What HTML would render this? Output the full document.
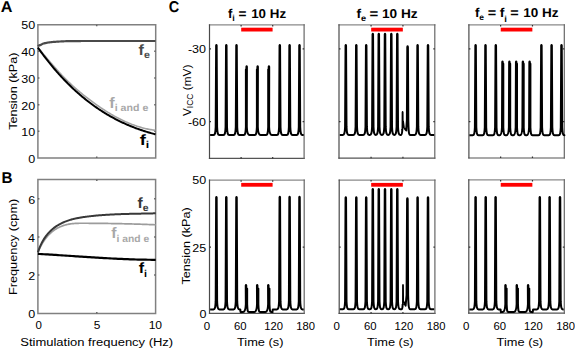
<!DOCTYPE html>
<html><head><meta charset="utf-8"><style>
html,body{margin:0;padding:0;background:#fff;width:575px;height:349px;overflow:hidden}
svg{display:block}
text{font-family:"Liberation Sans",sans-serif}
text.g{text-rendering:geometricPrecision}
</style></head><body>
<svg width="575" height="349" viewBox="0 0 575 349">
<rect width="575" height="349" fill="#fff"/>
<text class="g" transform="translate(0.78 12) scale(1.0385 1)" font-size="15.6" font-weight="bold" fill="#000">A</text>
<text class="g" transform="translate(1.42 182.8) scale(0.9792 1)" font-size="15.6" font-weight="bold" fill="#000">B</text>
<text class="g" transform="translate(168.74 12.2) scale(0.9314 1)" font-size="15.6" font-weight="bold" fill="#000">C</text>
<path d="M37.9 24.7H155.7V158H37.9Z" fill="none" stroke="#808080" stroke-width="1.5" stroke-linejoin="miter"/>
<path d="M96.7 158v-1.5M96.7 24.7v1.5M37.9 131.34h1.5M155.7 131.34h-1.5M37.9 104.68h1.5M155.7 104.68h-1.5M37.9 78.02h1.5M155.7 78.02h-1.5M37.9 51.36h1.5M155.7 51.36h-1.5" stroke="#666" stroke-width="1.5" fill="none"/>
<text transform="translate(28.26 163.2) scale(1.1100 1)" font-size="11.3" fill="#000">0</text>
<text transform="translate(21.27 136.44) scale(1.1100 1)" font-size="11.3" fill="#000">10</text>
<text transform="translate(21.27 109.68) scale(1.1100 1)" font-size="11.3" fill="#000">20</text>
<text transform="translate(21.27 82.92) scale(1.1100 1)" font-size="11.3" fill="#000">30</text>
<text transform="translate(21.27 56.16) scale(1.1100 1)" font-size="11.3" fill="#000">40</text>
<text transform="translate(21.27 29.4) scale(1.1100 1)" font-size="11.3" fill="#000">50</text>
<path d="M37.9 47.56L38.9 48.74L39.9 49.92L40.9 51.11L41.9 52.3L42.9 53.49L43.9 54.67L44.9 55.86L45.9 57.05L46.9 58.23L47.9 59.41L48.9 60.59L49.9 61.76L50.9 62.93L51.9 64.09L52.9 65.24L53.9 66.39L54.9 67.52L55.9 68.65L56.9 69.77L57.9 70.88L58.9 71.98L59.9 73.07L60.9 74.14L61.9 75.2L62.9 76.25L63.9 77.28L64.9 78.3L65.9 79.31L66.9 80.3L67.9 81.27L68.9 82.24L69.9 83.19L70.9 84.13L71.9 85.05L72.9 85.97L73.9 86.87L74.9 87.76L75.9 88.64L76.9 89.51L77.9 90.37L78.9 91.22L79.9 92.06L80.9 92.89L81.9 93.71L82.9 94.52L83.9 95.32L84.9 96.11L85.9 96.9L86.9 97.68L87.9 98.45L88.9 99.21L89.9 99.97L90.9 100.72L91.9 101.46L92.9 102.2L93.9 102.93L94.9 103.65L95.9 104.36L96.9 105.07L97.9 105.76L98.9 106.46L99.9 107.14L100.9 107.81L101.9 108.48L102.9 109.14L103.9 109.79L104.9 110.43L105.9 111.07L106.9 111.69L107.9 112.31L108.9 112.92L109.9 113.52L110.9 114.11L111.9 114.7L112.9 115.27L113.9 115.84L114.9 116.39L115.9 116.94L116.9 117.48L117.9 118L118.9 118.52L119.9 119.03L120.9 119.53L121.9 120.02L122.9 120.5L123.9 120.98L124.9 121.44L125.9 121.89L126.9 122.33L127.9 122.76L128.9 123.18L129.9 123.59L130.9 123.99L131.9 124.38L132.9 124.76L133.9 125.12L134.9 125.48L135.9 125.83L136.9 126.16L137.9 126.49L138.9 126.8L139.9 127.1L140.9 127.39L141.9 127.67L142.9 127.94L143.9 128.2L144.9 128.44L145.9 128.67L146.9 128.89L147.9 129.1L148.9 129.3L149.9 129.49L150.9 129.66L151.9 129.82L152.9 129.97L153.9 130.1L154.9 130.23L155.5 130.3" stroke="#a2a2a2" stroke-width="1.6" fill="none"/>
<path d="M37.9 47.62L38.9 49.03L39.9 50.41L40.9 51.79L41.9 53.15L42.9 54.49L43.9 55.82L44.9 57.13L45.9 58.44L46.9 59.72L47.9 60.99L48.9 62.25L49.9 63.49L50.9 64.72L51.9 65.94L52.9 67.14L53.9 68.33L54.9 69.5L55.9 70.66L56.9 71.81L57.9 72.95L58.9 74.07L59.9 75.17L60.9 76.27L61.9 77.35L62.9 78.42L63.9 79.48L64.9 80.52L65.9 81.55L66.9 82.57L67.9 83.58L68.9 84.57L69.9 85.56L70.9 86.53L71.9 87.48L72.9 88.43L73.9 89.37L74.9 90.29L75.9 91.2L76.9 92.1L77.9 92.99L78.9 93.87L79.9 94.73L80.9 95.59L81.9 96.43L82.9 97.27L83.9 98.09L84.9 98.9L85.9 99.7L86.9 100.5L87.9 101.28L88.9 102.05L89.9 102.81L90.9 103.56L91.9 104.3L92.9 105.03L93.9 105.75L94.9 106.46L95.9 107.16L96.9 107.85L97.9 108.54L98.9 109.21L99.9 109.87L100.9 110.53L101.9 111.18L102.9 111.81L103.9 112.44L104.9 113.06L105.9 113.67L106.9 114.27L107.9 114.86L108.9 115.45L109.9 116.02L110.9 116.59L111.9 117.15L112.9 117.7L113.9 118.24L114.9 118.77L115.9 119.3L116.9 119.81L117.9 120.32L118.9 120.82L119.9 121.32L120.9 121.8L121.9 122.28L122.9 122.75L123.9 123.21L124.9 123.67L125.9 124.11L126.9 124.55L127.9 124.99L128.9 125.41L129.9 125.83L130.9 126.24L131.9 126.65L132.9 127.04L133.9 127.43L134.9 127.82L135.9 128.19L136.9 128.57L137.9 128.93L138.9 129.29L139.9 129.64L140.9 129.98L141.9 130.32L142.9 130.65L143.9 130.98L144.9 131.29L145.9 131.61L146.9 131.91L147.9 132.22L148.9 132.51L149.9 132.8L150.9 133.09L151.9 133.36L152.9 133.64L153.9 133.9L154.9 134.17L155.5 134.32" stroke="#000" stroke-width="2" fill="none"/>
<path d="M37.9 46.3L38.6 45.68L39.3 45.37L40 45.13L40.7 44.89L41.4 44.54L42.1 44.13L42.8 43.77L43.5 43.54L44.2 43.36L44.9 43.2L45.6 43.06L46.3 42.92L47 42.78L47.7 42.65L48.4 42.52L49.1 42.41L49.8 42.31L50.5 42.23L51.2 42.16L51.9 42.09L52.6 42.02L53.3 41.96L54 41.91L54.7 41.86L55.4 41.8L56.1 41.76L56.8 41.71L57.5 41.66L58.2 41.61L58.9 41.56L59.6 41.52L60.3 41.48L61 41.44L61.7 41.4L62.4 41.36L63.1 41.33L63.8 41.3L64.5 41.27L65.2 41.25L65.9 41.22L66.6 41.2L67.3 41.18L68 41.15L68.7 41.14L69.4 41.12L70.1 41.11L70.8 41.1L71.5 41.09L72.2 41.09L72.9 41.08L73.6 41.07L74.3 41.07L75 41.06L75.7 41.06L76.4 41.05L77.1 41.05L77.8 41.04L78.5 41.04L79.2 41.03L79.9 41.03L80.6 41.03L81.3 41.02L82 41.02L82.7 41.02L83.4 41.01L84.1 41.01L84.8 41.01L85.5 41.01L86.2 41L86.9 41L87.6 41L88.3 41L89 41L89.7 41L90.4 41L91.1 41L91.8 41L92.5 41L93.2 41L93.9 41L94.6 41L95.3 41L96 41L96.7 41L97.4 41L98.1 41L98.8 41L99.5 41L100.2 41L100.9 41L101.6 41L102.3 41L103 41L103.7 41L104.4 41L105.1 41L105.8 41L106.5 41L107.2 41L107.9 41L108.6 41L109.3 41L110 41L110.7 41L111.4 41L112.1 41L112.8 41L113.5 41L114.2 41L114.9 41L115.6 41L116.3 41L117 41L117.7 41L118.4 41L119.1 41L119.8 41L120.5 41L121.2 41L121.9 41L122.6 41L123.3 41L124 41L124.7 41L125.4 41L126.1 41L126.8 41L127.5 41L128.2 41L128.9 41L129.6 41L130.3 41L131 41L131.7 41L132.4 41L133.1 41L133.8 41L134.5 41L135.2 41L135.9 41L136.6 41L137.3 41L138 41L138.7 41L139.4 41L140.1 41L140.8 41L141.5 41L142.2 41L142.9 41L143.6 41L144.3 41L145 41L145.7 41L146.4 41L147.1 41L147.8 41L148.5 41L149.2 41L149.9 41L150.6 41L151.3 41L152 41L152.7 41L153.4 41L154.1 41L154.8 41L155.5 41" stroke="#4a4a4a" stroke-width="2.2" fill="none"/>
<text class="g" transform="translate(138.58 55) scale(1.0707 1)" font-size="15" font-weight="bold" fill="#4a4a4a">f<tspan font-size="10" dy="3.4">e</tspan></text>
<text class="g" transform="translate(109.28 108.1) scale(1.0609 1)" font-size="15.3" font-weight="bold" fill="#a8a8a8">f<tspan font-size="10" dy="3.2">i and e</tspan></text>
<text class="g" transform="translate(139.73 144.6) scale(1.2206 1)" font-size="15" font-weight="bold" fill="#000">f<tspan font-size="10" dy="3.4">i</tspan></text>
<text transform="translate(16.6 129.84) rotate(-90) scale(1.1189 1)" font-size="11.3" fill="#000">Tension (kPa)</text>
<path d="M37.9 179.6H155.6V313.5H37.9Z" fill="none" stroke="#808080" stroke-width="1.5" stroke-linejoin="miter"/>
<path d="M96.8 313.5v-1.5M96.8 179.6v1.5M37.9 275.1h1.5M155.6 275.1h-1.5M37.9 236.9h1.5M155.6 236.9h-1.5M37.9 198.7h1.5M155.6 198.7h-1.5" stroke="#666" stroke-width="1.5" fill="none"/>
<text transform="translate(28.26 318.3) scale(1.1100 1)" font-size="11.3" fill="#000">0</text>
<text transform="translate(28.37 280.1) scale(1.1100 1)" font-size="11.3" fill="#000">2</text>
<text transform="translate(28.04 241.9) scale(1.1100 1)" font-size="11.3" fill="#000">4</text>
<text transform="translate(28.26 203.7) scale(1.1100 1)" font-size="11.3" fill="#000">6</text>
<text transform="translate(35.44 329.4) scale(1.0185 1)" font-size="11.3" fill="#000">0</text>
<text transform="translate(93.67 329.4) scale(1.0566 1)" font-size="11.3" fill="#000">5</text>
<text transform="translate(148.64 329.4) scale(1.0714 1)" font-size="11.3" fill="#000">10</text>
<path d="M37.9 252.36L38.6 250.7L39.3 249.13L40 247.66L40.7 246.28L41.4 244.98L42.1 243.76L42.8 242.61L43.5 241.52L44.2 240.49L44.9 239.51L45.6 238.57L46.3 237.68L47 236.83L47.7 236.02L48.4 235.25L49.1 234.51L49.8 233.81L50.5 233.15L51.2 232.51L51.9 231.91L52.6 231.34L53.3 230.8L54 230.29L54.7 229.8L55.4 229.34L56.1 228.91L56.8 228.5L57.5 228.11L58.2 227.74L58.9 227.39L59.6 227.05L60.3 226.74L61 226.45L61.7 226.17L62.4 225.9L63.1 225.66L63.8 225.43L64.5 225.21L65.2 225.01L65.9 224.82L66.6 224.65L67.3 224.49L68 224.34L68.7 224.2L69.4 224.08L70.1 223.96L70.8 223.86L71.5 223.77L72.2 223.68L72.9 223.61L73.6 223.54L74.3 223.49L75 223.44L75.7 223.39L76.4 223.36L77.1 223.33L77.8 223.3L78.5 223.28L79.2 223.27L79.9 223.26L80.6 223.25L81.3 223.24L82 223.24L82.7 223.24L83.4 223.24L84.1 223.25L84.8 223.25L85.5 223.26L86.2 223.26L86.9 223.26L87.6 223.27L88.3 223.27L89 223.28L89.7 223.28L90.4 223.29L91.1 223.29L91.8 223.3L92.5 223.3L93.2 223.31L93.9 223.32L94.6 223.32L95.3 223.33L96 223.34L96.7 223.34L97.4 223.35L98.1 223.36L98.8 223.36L99.5 223.37L100.2 223.38L100.9 223.39L101.6 223.39L102.3 223.4L103 223.41L103.7 223.42L104.4 223.43L105.1 223.44L105.8 223.45L106.5 223.46L107.2 223.47L107.9 223.47L108.6 223.49L109.3 223.5L110 223.51L110.7 223.52L111.4 223.53L112.1 223.54L112.8 223.55L113.5 223.56L114.2 223.57L114.9 223.59L115.6 223.6L116.3 223.61L117 223.62L117.7 223.64L118.4 223.65L119.1 223.66L119.8 223.68L120.5 223.69L121.2 223.71L121.9 223.72L122.6 223.74L123.3 223.75L124 223.77L124.7 223.78L125.4 223.8L126.1 223.82L126.8 223.83L127.5 223.85L128.2 223.87L128.9 223.89L129.6 223.9L130.3 223.92L131 223.94L131.7 223.96L132.4 223.98L133.1 224L133.8 224.02L134.5 224.04L135.2 224.06L135.9 224.08L136.6 224.1L137.3 224.12L138 224.14L138.7 224.16L139.4 224.19L140.1 224.21L140.8 224.23L141.5 224.25L142.2 224.28L142.9 224.3L143.6 224.33L144.3 224.35L145 224.37L145.7 224.4L146.4 224.43L147.1 224.45L147.8 224.48L148.5 224.5L149.2 224.53L149.9 224.56L150.6 224.59L151.3 224.62L152 224.64L152.7 224.67L153.4 224.7L154.1 224.73L154.8 224.76L155.5 224.79L155.7 224.8" stroke="#9c9c9c" stroke-width="1.7" fill="none"/>
<path d="M37.9 252.35L38.6 250.3L39.3 248.4L40 246.66L40.7 245.05L41.4 243.57L42.1 242.2L42.8 240.94L43.5 239.76L44.2 238.66L44.9 237.62L45.6 236.64L46.3 235.7L47 234.81L47.7 233.96L48.4 233.15L49.1 232.37L49.8 231.64L50.5 230.94L51.2 230.27L51.9 229.63L52.6 229.03L53.3 228.45L54 227.9L54.7 227.38L55.4 226.88L56.1 226.4L56.8 225.94L57.5 225.5L58.2 225.08L58.9 224.67L59.6 224.28L60.3 223.91L61 223.54L61.7 223.19L62.4 222.85L63.1 222.53L63.8 222.21L64.5 221.91L65.2 221.62L65.9 221.35L66.6 221.08L67.3 220.82L68 220.58L68.7 220.34L69.4 220.12L70.1 219.9L70.8 219.69L71.5 219.49L72.2 219.3L72.9 219.12L73.6 218.94L74.3 218.77L75 218.61L75.7 218.46L76.4 218.31L77.1 218.17L77.8 218.03L78.5 217.9L79.2 217.78L79.9 217.66L80.6 217.54L81.3 217.43L82 217.32L82.7 217.21L83.4 217.11L84.1 217.01L84.8 216.91L85.5 216.82L86.2 216.73L86.9 216.63L87.6 216.55L88.3 216.46L89 216.37L89.7 216.29L90.4 216.21L91.1 216.13L91.8 216.05L92.5 215.98L93.2 215.9L93.9 215.83L94.6 215.76L95.3 215.69L96 215.62L96.7 215.56L97.4 215.49L98.1 215.43L98.8 215.37L99.5 215.31L100.2 215.26L100.9 215.2L101.6 215.14L102.3 215.09L103 215.04L103.7 214.99L104.4 214.94L105.1 214.89L105.8 214.85L106.5 214.8L107.2 214.76L107.9 214.72L108.6 214.67L109.3 214.63L110 214.6L110.7 214.56L111.4 214.52L112.1 214.49L112.8 214.45L113.5 214.42L114.2 214.38L114.9 214.35L115.6 214.32L116.3 214.29L117 214.26L117.7 214.24L118.4 214.21L119.1 214.18L119.8 214.16L120.5 214.13L121.2 214.11L121.9 214.09L122.6 214.06L123.3 214.04L124 214.02L124.7 214L125.4 213.98L126.1 213.96L126.8 213.94L127.5 213.92L128.2 213.9L128.9 213.89L129.6 213.87L130.3 213.85L131 213.84L131.7 213.82L132.4 213.81L133.1 213.79L133.8 213.78L134.5 213.76L135.2 213.75L135.9 213.73L136.6 213.72L137.3 213.7L138 213.69L138.7 213.68L139.4 213.66L140.1 213.65L140.8 213.64L141.5 213.62L142.2 213.61L142.9 213.59L143.6 213.58L144.3 213.57L145 213.55L145.7 213.54L146.4 213.52L147.1 213.51L147.8 213.49L148.5 213.48L149.2 213.46L149.9 213.45L150.6 213.43L151.3 213.41L152 213.4L152.7 213.38L153.4 213.36L154.1 213.34L154.8 213.32L155.5 213.31L155.7 213.3" stroke="#383838" stroke-width="2" fill="none"/>
<path d="M37.9 253.9L39.9 254.01L41.9 254.12L43.9 254.24L45.9 254.35L47.9 254.47L49.9 254.6L51.9 254.72L53.9 254.84L55.9 254.97L57.9 255.1L59.9 255.23L61.9 255.36L63.9 255.49L65.9 255.62L67.9 255.75L69.9 255.88L71.9 256.02L73.9 256.15L75.9 256.28L77.9 256.42L79.9 256.55L81.9 256.68L83.9 256.81L85.9 256.94L87.9 257.07L89.9 257.2L91.9 257.32L93.9 257.45L95.9 257.57L97.9 257.7L99.9 257.82L101.9 257.93L103.9 258.05L105.9 258.16L107.9 258.27L109.9 258.38L111.9 258.49L113.9 258.59L115.9 258.69L117.9 258.79L119.9 258.88L121.9 258.97L123.9 259.05L125.9 259.14L127.9 259.21L129.9 259.29L131.9 259.36L133.9 259.42L135.9 259.48L137.9 259.54L139.9 259.59L141.9 259.63L143.9 259.67L145.9 259.71L147.9 259.74L149.9 259.76L151.9 259.78L153.9 259.79L155.7 259.8" stroke="#000" stroke-width="2.2" fill="none"/>
<text class="g" transform="translate(137.49 207.6) scale(1.0404 1)" font-size="15" font-weight="bold" fill="#383838">f<tspan font-size="10" dy="3.4">e</tspan></text>
<text class="g" transform="translate(111.29 238.3) scale(1.0332 1)" font-size="15.3" font-weight="bold" fill="#a8a8a8">f<tspan font-size="10" dy="3.2">i and e</tspan></text>
<text class="g" transform="translate(138.68 273.3) scale(1.0735 1)" font-size="15" font-weight="bold" fill="#000">f<tspan font-size="10" dy="3.4">i</tspan></text>
<text transform="translate(16.8 295.12) rotate(-90) scale(1.1289 1)" font-size="11.3" fill="#000">Frequency (cpm)</text>
<text transform="translate(20.32 346.3) scale(1.1501 1)" font-size="11.3" fill="#000">Stimulation frequency (Hz)</text>
<path d="M208.9 24.9H304.7" stroke="#8a8a8a" stroke-width="1.2"/>
<path d="M208.9 158.4H304.7" stroke="#555" stroke-width="1.2"/>
<path d="M304.1 24.3V159" stroke="#666" stroke-width="1.2"/>
<path d="M209.5 24.3V159" stroke="#4a4a4a" stroke-width="1.2"/>
<path d="M241.1 158.4v-1.5M241.1 24.9v1.5M272.7 158.4v-1.5M272.7 24.9v1.5M209.5 48.9h1.5M304.1 48.9h-1.5M209.5 121.7h1.5M304.1 121.7h-1.5" stroke="#333" stroke-width="1.2" fill="none"/>
<rect x="241.2" y="27.7" width="31.4" height="3.8" fill="#f00"/>
<path d="M208.9 180.2H304.8" stroke="#8a8a8a" stroke-width="1.2"/>
<path d="M208.9 313.3H304.8" stroke="#555" stroke-width="1.2"/>
<path d="M304.2 179.6V313.9" stroke="#666" stroke-width="1.2"/>
<path d="M209.5 179.6V313.9" stroke="#4a4a4a" stroke-width="1.2"/>
<path d="M241.1 313.3v-1.5M241.1 180.2v1.5M272.7 313.3v-1.5M272.7 180.2v1.5M209.5 247.1h1.5M304.2 247.1h-1.5" stroke="#333" stroke-width="1.2" fill="none"/>
<rect x="241.2" y="182.9" width="31.4" height="3.8" fill="#f00"/>
<path d="M338.4 24.9H435.4" stroke="#8a8a8a" stroke-width="1.2"/>
<path d="M338.4 158.2H435.4" stroke="#555" stroke-width="1.2"/>
<path d="M434.8 24.3V158.8" stroke="#666" stroke-width="1.2"/>
<path d="M339 24.3V158.8" stroke="#4a4a4a" stroke-width="1.2"/>
<path d="M371.07 158.2v-1.5M371.07 24.9v1.5M402.93 158.2v-1.5M402.93 24.9v1.5M339 48.9h1.5M434.8 48.9h-1.5M339 121.7h1.5M434.8 121.7h-1.5" stroke="#333" stroke-width="1.2" fill="none"/>
<rect x="371.17" y="27.7" width="31.67" height="3.8" fill="#f00"/>
<path d="M338.6 180.1H435.5" stroke="#8a8a8a" stroke-width="1.2"/>
<path d="M338.6 313.4H435.5" stroke="#555" stroke-width="1.2"/>
<path d="M434.9 179.5V314" stroke="#666" stroke-width="1.2"/>
<path d="M339.2 179.5V314" stroke="#4a4a4a" stroke-width="1.2"/>
<path d="M371.07 313.4v-1.5M371.07 180.1v1.5M402.93 313.4v-1.5M402.93 180.1v1.5M339.2 247.1h1.5M434.9 247.1h-1.5" stroke="#333" stroke-width="1.2" fill="none"/>
<rect x="371.17" y="182.9" width="31.67" height="3.8" fill="#f00"/>
<path d="M468.3 24.9H564.9" stroke="#8a8a8a" stroke-width="1.2"/>
<path d="M468.3 158H564.9" stroke="#555" stroke-width="1.2"/>
<path d="M564.3 24.3V158.6" stroke="#666" stroke-width="1.2"/>
<path d="M468.9 24.3V158.6" stroke="#4a4a4a" stroke-width="1.2"/>
<path d="M500.63 158v-1.5M500.63 24.9v1.5M532.47 158v-1.5M532.47 24.9v1.5M468.9 48.9h1.5M564.3 48.9h-1.5M468.9 121.7h1.5M564.3 121.7h-1.5" stroke="#333" stroke-width="1.2" fill="none"/>
<rect x="500.73" y="27.7" width="31.63" height="3.8" fill="#f00"/>
<path d="M468.2 179.9H564.9" stroke="#8a8a8a" stroke-width="1.2"/>
<path d="M468.2 313.2H564.9" stroke="#555" stroke-width="1.2"/>
<path d="M564.3 179.3V313.8" stroke="#666" stroke-width="1.2"/>
<path d="M468.8 179.3V313.8" stroke="#4a4a4a" stroke-width="1.2"/>
<path d="M500.63 313.2v-1.5M500.63 179.9v1.5M532.47 313.2v-1.5M532.47 179.9v1.5M468.8 247.1h1.5M564.3 247.1h-1.5" stroke="#333" stroke-width="1.2" fill="none"/>
<rect x="500.73" y="182.9" width="31.63" height="3.8" fill="#f00"/>
<text transform="translate(187.95 52.9) scale(1.1100 1)" font-size="11.3" fill="#000">-30</text>
<text transform="translate(187.95 126) scale(1.1100 1)" font-size="11.3" fill="#000">-60</text>
<text transform="translate(192.37 184) scale(1.1100 1)" font-size="11.3" fill="#000">50</text>
<text transform="translate(192.37 251.7) scale(1.1100 1)" font-size="11.3" fill="#000">25</text>
<text transform="translate(199.46 317.8) scale(1.1100 1)" font-size="11.3" fill="#000">0</text>
<text transform="translate(203.69 329.6) scale(1.0185 1)" font-size="11.3" fill="#000">0</text>
<text transform="translate(234.05 329.6) scale(1.0000 1)" font-size="11.3" fill="#000">60</text>
<text transform="translate(264.31 329.6) scale(0.9943 1)" font-size="11.3" fill="#000">120</text>
<text transform="translate(296.31 329.6) scale(0.9943 1)" font-size="11.3" fill="#000">180</text>
<text transform="translate(236.96 346) scale(1.1350 1)" font-size="11.3" fill="#000">Time (s)</text>
<text transform="translate(333.39 329.6) scale(1.0185 1)" font-size="11.3" fill="#000">0</text>
<text transform="translate(364.02 329.6) scale(1.0000 1)" font-size="11.3" fill="#000">60</text>
<text transform="translate(394.54 329.6) scale(0.9943 1)" font-size="11.3" fill="#000">120</text>
<text transform="translate(426.81 329.6) scale(0.9943 1)" font-size="11.3" fill="#000">180</text>
<text transform="translate(367.06 346) scale(1.1350 1)" font-size="11.3" fill="#000">Time (s)</text>
<text transform="translate(462.99 329.6) scale(1.0185 1)" font-size="11.3" fill="#000">0</text>
<text transform="translate(493.58 329.6) scale(1.0000 1)" font-size="11.3" fill="#000">60</text>
<text transform="translate(524.07 329.6) scale(0.9943 1)" font-size="11.3" fill="#000">120</text>
<text transform="translate(556.31 329.6) scale(0.9943 1)" font-size="11.3" fill="#000">180</text>
<text transform="translate(496.61 346) scale(1.1350 1)" font-size="11.3" fill="#000">Time (s)</text>
<text transform="translate(190.5 116) rotate(-90) scale(1.0000 1)" font-size="11.8" fill="#000">V<tspan font-size="8.5" dy="2.7">ICC</tspan><tspan dy="-2.7"> (mV)</tspan></text>
<text transform="translate(189.8 284.54) rotate(-90) scale(1.1189 1)" font-size="11.3" fill="#000">Tension (kPa)</text>
<text class="g" transform="translate(227.9 18.4) scale(1.0169 1)" font-size="12.8" font-weight="bold" fill="#000">f<tspan font-size="8.8" dy="2.8">i</tspan></text>
<text class="g" transform="translate(238.57 18.4) scale(1.0625 1)" font-size="12.8" font-weight="bold" fill="#000">=</text>
<text class="g" transform="translate(251.17 18.4) scale(1.0435 1)" font-size="12.8" font-weight="bold" fill="#000">10 Hz</text>
<text class="g" transform="translate(356.39 18.4) scale(1.0706 1)" font-size="12.8" font-weight="bold" fill="#000">f<tspan font-size="8.5" dy="2.8">e</tspan></text>
<text class="g" transform="translate(369.51 18.4) scale(1.1719 1)" font-size="12.8" font-weight="bold" fill="#000">=</text>
<text class="g" transform="translate(381.95 18.4) scale(1.0683 1)" font-size="12.8" font-weight="bold" fill="#000">10 Hz</text>
<text class="g" transform="translate(474.89 17.4) scale(1.0361 1)" font-size="12.8" font-weight="bold" fill="#000">f<tspan font-size="8.2" dy="2.2">e</tspan></text>
<text class="g" transform="translate(487.64 17.4) scale(1.1250 1)" font-size="12.8" font-weight="bold" fill="#000">=</text>
<text class="g" transform="translate(499.68 17.4) scale(1.0847 1)" font-size="12.8" font-weight="bold" fill="#000">f<tspan font-size="8.8" dy="5.0">i</tspan></text>
<text class="g" transform="translate(510.24 17.4) scale(1.1250 1)" font-size="12.8" font-weight="bold" fill="#000">=</text>
<text class="g" transform="translate(523.16 17.4) scale(1.0559 1)" font-size="12.8" font-weight="bold" fill="#000">10 Hz</text>
<path d="M210.1 135L213.5 135C214.9 135 215.4 133.5 215.7 127L216.15 45.5Q216.4 44.5 216.65 45.5L217.1 127C217.4 133.5 217.9 135 219.3 135L223.4 135C224.8 135 225.3 133.5 225.6 127L226.05 45.5Q226.3 44.5 226.55 45.5L227 127C227.3 133.5 227.8 135 229.2 135L233.6 135C235 135 235.5 133.5 235.8 127L236.25 45.5Q236.5 44.5 236.75 45.5L237.2 127C237.5 133.5 238 135 239.4 135L243.75 135C245.15 135 245.6 133.5 245.9 127L245.9 69.6L246.4 69.2L246.4 66.8Q246.65 65.8 246.9 66.8L246.8 127C247.1 133.5 248.15 135 249.55 135L254.75 135C256.15 135 256.6 133.5 256.9 127L256.9 69.6L257.4 69.2L257.4 66.8Q257.65 65.8 257.9 66.8L257.8 127C258.1 133.5 259.15 135 260.55 135L266.05 135C267.45 135 267.9 133.5 268.2 127L268.2 69.6L268.7 69.2L268.7 66.8Q268.95 65.8 269.2 66.8L269.1 127C269.4 133.5 270.45 135 271.85 135L276.9 135C278.3 135 278.8 133.5 279.1 127L279.55 45.4Q279.8 44.4 280.05 45.4L280.5 127C280.8 133.5 281.3 135 282.7 135L286.7 135C288.1 135 288.6 133.5 288.9 127L289.35 45.4Q289.6 44.4 289.85 45.4L290.3 127C290.6 133.5 291.1 135 292.5 135L296.6 135C298 135 298.5 133.5 298.8 127L299.25 45.4Q299.5 44.4 299.75 45.4L300.2 127C300.5 133.5 301 135 302.4 135L303.7 135" stroke="#000" stroke-width="2" fill="none" stroke-linejoin="round"/>
<path d="M339.8 134.9L342.9 134.9C344.3 134.9 344.8 133.4 345.1 126.9L345.55 45.6Q345.8 44.6 346.05 45.6L346.5 126.9C346.8 133.4 347.3 134.9 348.7 134.9L353.4 134.9C354.8 134.9 355.3 133.4 355.6 126.9L356.05 45.6Q356.3 44.6 356.55 45.6L357 126.9C357.3 133.4 357.8 134.9 359.2 134.9L363.3 134.9C364.7 134.9 365.2 133.4 365.5 126.9L365.95 45.6Q366.2 44.6 366.45 45.6L366.9 126.9C367.2 133.4 367.7 134.9 369.1 134.9L369.9 134.9C371.3 134.9 371.8 133.4 372.1 126.9L372.55 34.2Q372.8 33.2 373.05 34.2L373.5 126.9C373.8 133.4 374.3 134.9 375.7 134.9L375.9 134.9C377.3 134.9 377.8 133.4 378.1 126.9L378.55 34.2Q378.8 33.2 379.05 34.2L379.5 126.9C379.8 133.4 380.3 134.9 381.7 134.9L382.1 134.9C383.5 134.9 384 133.4 384.3 126.9L384.75 34.2Q385 33.2 385.25 34.2L385.7 126.9C386 133.4 386.5 134.9 387.9 134.9L388.4 134.9C389.8 134.9 390.3 133.4 390.6 126.9L391.05 34.2Q391.3 33.2 391.55 34.2L392 126.9C392.3 133.4 392.8 134.9 394.2 134.9L394.4 134.9C395.8 134.9 396.3 133.4 396.6 126.9L397.05 34.2Q397.3 33.2 397.55 34.2L398 126.9C398.3 133.4 398.8 134.9 400.2 134.9L401 134.9C401.8 134.9 402.2 133.8 402.3 129M402.9 121L403.8 127.5L406.2 130.5L406.9 120L407.3 47Q407.6 45.6 407.9 47L408.3 120C408.5 131 408.7 134.9 410.3 134.9L414.7 134.9C416.1 134.9 416.6 133.4 416.9 126.9L417.35 45.5Q417.6 44.5 417.85 45.5L418.3 126.9C418.6 133.4 419.1 134.9 420.5 134.9L425.1 134.9C426.5 134.9 427 133.4 427.3 126.9L427.75 45.5Q428 44.5 428.25 45.5L428.7 126.9C429 133.4 429.5 134.9 430.9 134.9L434.2 134.9" stroke="#000" stroke-width="2" fill="none" stroke-linejoin="round"/>
<path d="M469.4 135.2L472.7 135.2C474.1 135.2 474.6 133.7 474.9 127.2L475.35 45.4Q475.6 44.4 475.85 45.4L476.3 127.2C476.6 133.7 477.1 135.2 478.5 135.2L482.6 135.2C484 135.2 484.5 133.7 484.8 127.2L485.25 45.4Q485.5 44.4 485.75 45.4L486.2 127.2C486.5 133.7 487 135.2 488.4 135.2L492.9 135.2C494.3 135.2 494.8 133.7 495.1 127.2L495.55 45.4Q495.8 44.4 496.05 45.4L496.5 127.2C496.8 133.7 497.3 135.2 498.7 135.2L499.6 135.2C501 135.2 501.7 133.7 502 127.2L502.25 61.9Q502.5 60.9 502.75 61.9L502.75 63.4L503.3 63.8L503.3 127.2C503.6 133.7 504 135.2 505.4 135.2L506.5 135.2C507.9 135.2 508.6 133.7 508.9 127.2L509.15 61.9Q509.4 60.9 509.65 61.9L509.65 63.4L510.2 63.8L510.2 127.2C510.5 133.7 510.9 135.2 512.3 135.2L513.3 135.2C514.7 135.2 515.4 133.7 515.7 127.2L515.95 61.9Q516.2 60.9 516.45 61.9L516.45 63.4L517 63.8L517 127.2C517.3 133.7 517.7 135.2 519.1 135.2L520 135.2C521.4 135.2 522.1 133.7 522.4 127.2L522.65 61.9Q522.9 60.9 523.15 61.9L523.15 63.4L523.7 63.8L523.7 127.2C524 133.7 524.4 135.2 525.8 135.2L526.7 135.2C528.1 135.2 528.8 133.7 529.1 127.2L529.35 61.9Q529.6 60.9 529.85 61.9L529.85 63.4L530.4 63.8L530.4 127.2C530.7 133.7 531.1 135.2 532.5 135.2L538.5 135.2C539.9 135.2 540.4 133.7 540.7 127.2L541.15 45.4Q541.4 44.4 541.65 45.4L542.1 127.2C542.4 133.7 542.9 135.2 544.3 135.2L548.7 135.2C550.1 135.2 550.6 133.7 550.9 127.2L551.35 45.4Q551.6 44.4 551.85 45.4L552.3 127.2C552.6 133.7 553.1 135.2 554.5 135.2L558.6 135.2C560 135.2 560.5 133.7 560.8 127.2L561.25 45.4Q561.5 44.4 561.75 45.4L562.2 127.2C562.5 133.7 563 135.2 564.4 135.2L563.7 135.2" stroke="#000" stroke-width="2" fill="none" stroke-linejoin="round"/>
<path d="M210.1 309.4L213.5 309.4C214.9 309.4 215.4 307.9 215.7 301.4L216.15 197.5Q216.4 196.5 216.65 197.5L217.1 301.4C217.4 307.9 217.9 309.4 219.3 309.4L223.4 309.4C224.8 309.4 225.3 307.9 225.6 301.4L226.05 197.5Q226.3 196.5 226.55 197.5L227 301.4C227.3 307.9 227.8 309.4 229.2 309.4L233.6 309.4C235 309.4 235.5 307.9 235.8 301.4L236.25 197.5Q236.5 196.5 236.75 197.5L237.2 301.4C237.5 307.9 238 309.4 239.4 309.4L240.25 309.4L240.55 312L243.1 312C244.5 312 245.55 310.5 245.85 304L245.75 285.6Q246 284.6 246.25 285.6L246.25 288.3L247.15 288.7L247.15 304C247.45 310.5 247.5 312 248.9 312L254.3 312C255.7 312 256.75 310.5 257.05 304L256.95 285.6Q257.2 284.6 257.45 285.6L257.45 288.3L258.35 288.7L258.35 304C258.65 310.5 258.7 312 260.1 312L265.4 312C266.8 312 267.85 310.5 268.15 304L268.05 285.6Q268.3 284.6 268.55 285.6L268.55 288.3L269.45 288.7L269.45 304C269.75 310.5 269.8 312 271.2 312L272.4 312L272.8 309.4L276.9 309.4C278.3 309.4 278.8 307.9 279.1 301.4L279.55 197.3Q279.8 196.3 280.05 197.3L280.5 301.4C280.8 307.9 281.3 309.4 282.7 309.4L286.7 309.4C288.1 309.4 288.6 307.9 288.9 301.4L289.35 197.3Q289.6 196.3 289.85 197.3L290.3 301.4C290.6 307.9 291.1 309.4 292.5 309.4L296.6 309.4C298 309.4 298.5 307.9 298.8 301.4L299.25 197.3Q299.5 196.3 299.75 197.3L300.2 301.4C300.5 307.9 301 309.4 302.4 309.4L303.7 309.4" stroke="#000" stroke-width="2" fill="none" stroke-linejoin="round"/>
<path d="M339.8 309.3L342.9 309.3C344.3 309.3 344.8 307.8 345.1 301.3L345.55 197.7Q345.8 196.7 346.05 197.7L346.5 301.3C346.8 307.8 347.3 309.3 348.7 309.3L353.4 309.3C354.8 309.3 355.3 307.8 355.6 301.3L356.05 197.7Q356.3 196.7 356.55 197.7L357 301.3C357.3 307.8 357.8 309.3 359.2 309.3L363.3 309.3C364.7 309.3 365.2 307.8 365.5 301.3L365.95 197.7Q366.2 196.7 366.45 197.7L366.9 301.3C367.2 307.8 367.7 309.3 369.1 309.3L369.9 309.3C371.3 309.3 371.8 307.8 372.1 301.3L372.55 189.4Q372.8 188.4 373.05 189.4L373.5 301.3C373.8 307.8 374.3 309.3 375.7 309.3L375.9 309.3C377.3 309.3 377.8 307.8 378.1 301.3L378.55 189.4Q378.8 188.4 379.05 189.4L379.5 301.3C379.8 307.8 380.3 309.3 381.7 309.3L382.1 309.3C383.5 309.3 384 307.8 384.3 301.3L384.75 189.4Q385 188.4 385.25 189.4L385.7 301.3C386 307.8 386.5 309.3 387.9 309.3L388.4 309.3C389.8 309.3 390.3 307.8 390.6 301.3L391.05 189.4Q391.3 188.4 391.55 189.4L392 301.3C392.3 307.8 392.8 309.3 394.2 309.3L394.4 309.3C395.8 309.3 396.3 307.8 396.6 301.3L397.05 189.4Q397.3 188.4 397.55 189.4L398 301.3C398.3 307.8 398.8 309.3 400.2 309.3L401.6 309.3C402.3 309.3 402.6 307.6 402.7 304M403.3 301L403.6 302L405.6 305.6L406.6 295L407.1 199Q407.4 197.6 407.7 199L408.1 295C408.4 305 408.7 309.3 410.2 309.3L414.7 309.3C416.1 309.3 416.6 307.8 416.9 301.3L417.35 197.8Q417.6 196.8 417.85 197.8L418.3 301.3C418.6 307.8 419.1 309.3 420.5 309.3L425.1 309.3C426.5 309.3 427 307.8 427.3 301.3L427.75 197.8Q428 196.8 428.25 197.8L428.7 301.3C429 307.8 429.5 309.3 430.9 309.3L434.2 309.3" stroke="#000" stroke-width="2" fill="none" stroke-linejoin="round"/>
<path d="M469.4 309.4L472.7 309.4C474.1 309.4 474.6 307.9 474.9 301.4L475.35 197.6Q475.6 196.6 475.85 197.6L476.3 301.4C476.6 307.9 477.1 309.4 478.5 309.4L482.8 309.4C484.2 309.4 484.7 307.9 485 301.4L485.45 197.6Q485.7 196.6 485.95 197.6L486.4 301.4C486.7 307.9 487.2 309.4 488.6 309.4L492.7 309.4C494.1 309.4 494.6 307.9 494.9 301.4L495.35 197.6Q495.6 196.6 495.85 197.6L496.3 301.4C496.6 307.9 497.1 309.4 498.5 309.4L500.55 309.4L500.85 312L502.6 312C504 312 505.05 310.5 505.35 304L505.25 285.5Q505.5 284.5 505.75 285.5L505.75 288.2L506.65 288.6L506.65 304C506.95 310.5 507 312 508.4 312L513.9 312C515.3 312 516.35 310.5 516.65 304L516.55 285.5Q516.8 284.5 517.05 285.5L517.05 288.2L517.95 288.6L517.95 304C518.25 310.5 518.3 312 519.7 312L525.2 312C526.6 312 527.65 310.5 527.95 304L527.85 285.5Q528.1 284.5 528.35 285.5L528.35 288.2L529.25 288.6L529.25 304C529.55 310.5 529.6 312 531 312L532.7 312L533.1 309.4L536.9 309.4C538.3 309.4 538.8 307.9 539.1 301.4L539.55 197.6Q539.8 196.6 540.05 197.6L540.5 301.4C540.8 307.9 541.3 309.4 542.7 309.4L546.7 309.4C548.1 309.4 548.6 307.9 548.9 301.4L549.35 197.6Q549.6 196.6 549.85 197.6L550.3 301.4C550.6 307.9 551.1 309.4 552.5 309.4L557.1 309.4C558.5 309.4 559 307.9 559.3 301.4L559.75 197.6Q560 196.6 560.25 197.6L560.7 301.4C561 307.9 561.5 309.4 562.9 309.4L563.7 309.4" stroke="#000" stroke-width="2" fill="none" stroke-linejoin="round"/>
<path d="M402.3 130L402.4 112.3Q402.6 111.2 402.8 112.3L402.9 123M402.8 305L402.85 285.3Q403 284.3 403.15 285.3L403.3 302" stroke="#000" stroke-width="1.5" fill="none" stroke-linejoin="round"/>
</svg>
</body></html>
